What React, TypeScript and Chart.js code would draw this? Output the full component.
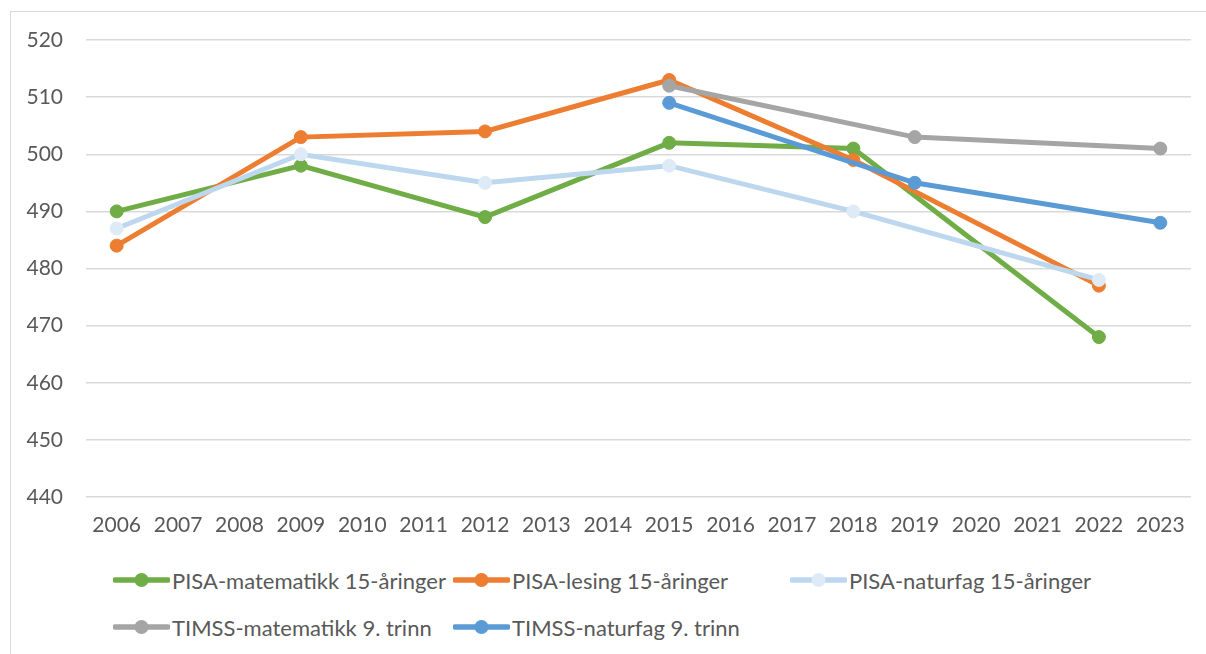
import React, { useEffect, useRef } from "react";
import { Chart, registerables } from "chart.js";

Chart.register(...registerables);

const years = ["2006","2007","2008","2009","2010","2011","2012","2013","2014","2015","2016","2017","2018","2019","2020","2021","2022","2023"];

const pisaMath: (number | null)[] = [490,null,null,498,null,null,489,null,null,502,null,null,501,null,null,null,468,null];
const pisaRead: (number | null)[] = [484,null,null,503,null,null,504,null,null,513,null,null,499,null,null,null,477,null];
const pisaSci: (number | null)[] = [487,null,null,500,null,null,495,null,null,498,null,null,490,null,null,null,478,null];
const timssMath: (number | null)[] = [null,null,null,null,null,null,null,null,null,512,null,null,null,503,null,null,null,501];
const timssSci: (number | null)[] = [null,null,null,null,null,null,null,null,null,509,null,null,null,495,null,null,null,488];

const seriesNames = [
  "PISA-matematikk 15-åringer",
  "PISA-lesing 15-åringer",
  "PISA-naturfag 15-åringer",
  "TIMSS-matematikk 9. trinn",
  "TIMSS-naturfag 9. trinn",
];
const lineColors = ["#70AD47", "#ED7D31", "#BDD7EE", "#A5A5A5", "#5B9BD5"];
const markerColors = ["#70AD47", "#ED7D31", "#DEEBF7", "#A5A5A5", "#5B9BD5"];

const FONT = "Lato, 'Open Sans', sans-serif";
const TEXT = "#595959";

const legendPos = [
  { x: 113, y: 580 },
  { x: 453, y: 580 },
  { x: 790, y: 580 },
  { x: 113, y: 627 },
  { x: 453, y: 627 },
];

export default function App() {
  const ref = useRef<HTMLCanvasElement | null>(null);

  useEffect(() => {
    if (!ref.current) return;
    const allData = [pisaMath, pisaRead, pisaSci, timssMath, timssSci];
    const chart = new Chart(ref.current, {
      type: "line",
      data: {
        labels: years,
        datasets: allData.map((d, i) => ({
          label: seriesNames[i],
          data: d,
          borderColor: lineColors[i],
          backgroundColor: markerColors[i],
          pointBackgroundColor: markerColors[i],
          pointBorderColor: markerColors[i],
          borderWidth: 5,
          pointRadius: 6.5,
          pointBorderWidth: 1,
          spanGaps: true,
          tension: 0,
          order: 5 - i,
        })),
      },
      options: {
        responsive: false,
        animation: false,
        devicePixelRatio: 1,
        layout: { padding: { top: 40, right: 15, bottom: 0, left: 0 } },
        plugins: { legend: { display: false }, tooltip: { enabled: false } },
        scales: {
          x: {
            offset: true,
            grid: { display: false, drawTicks: false },
            border: { display: false },
            ticks: { color: TEXT, font: { family: FONT, size: 21 }, padding: 16, maxRotation: 0, autoSkip: false },
            afterFit: (s: any) => { s.height = 48; },
          },
          y: {
            min: 440,
            max: 520,
            grid: { color: "#D9D9D9", lineWidth: 1.5, drawTicks: false },
            border: { display: false },
            ticks: { stepSize: 10, color: TEXT, font: { family: FONT, size: 21 }, padding: 23 },
            afterFit: (s: any) => { s.width = 86; },
          },
        },
      },
    });
    return () => chart.destroy();
  }, []);

  return (
    <div style={{ position: "fixed", left: 0, top: 0, width: 1206, height: 654, background: "#fff", overflow: "hidden" }}>
      <div style={{ position: "absolute", left: 10, top: 11, width: 1300, height: 800, border: "1px solid #D9D9D9" }} />
      <canvas ref={ref} width={1206} height={545} style={{ position: "absolute", left: 0, top: 0, width: 1206, height: 545 }} />
      {seriesNames.map((name, i) => (
        <div key={name} style={{ position: "absolute", left: legendPos[i].x, top: legendPos[i].y - 14, height: 28, display: "flex", alignItems: "center", whiteSpace: "nowrap", fontFamily: FONT, fontSize: 22, color: TEXT }}>
          <svg width={57} height={20} style={{ display: "block", marginRight: 2 }}>
            <line x1={2} y1={10} x2={55} y2={10} stroke={lineColors[i]} strokeWidth={5.5} strokeLinecap="round" />
            <circle cx={28.5} cy={10} r={7} fill={markerColors[i]} />
          </svg>
          <span>{name}</span>
        </div>
      ))}
    </div>
  );
}
